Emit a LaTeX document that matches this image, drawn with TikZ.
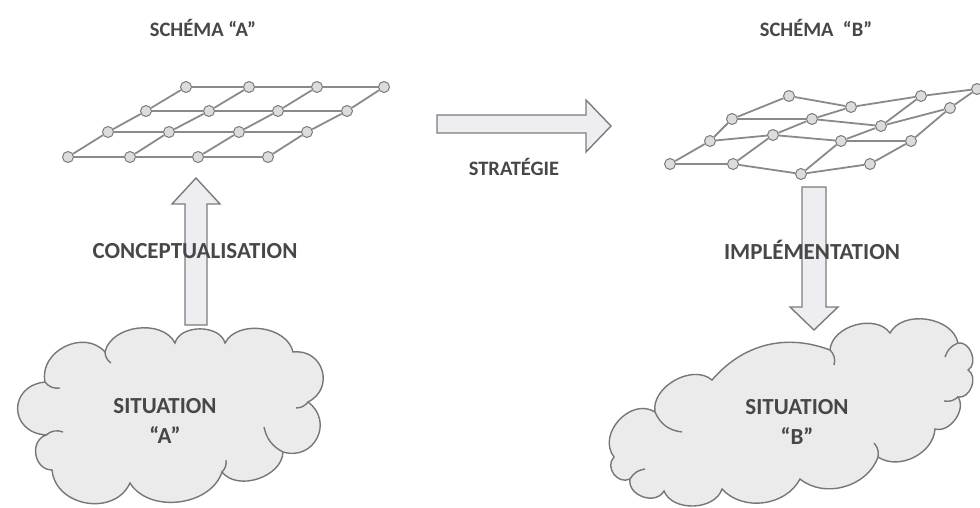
\documentclass[tikz,border=0pt]{standalone}
\usepackage{fontspec}
\setmainfont{Carlito}
\definecolor{txt}{HTML}{474747}
\definecolor{gline}{HTML}{8A8A8A}
\definecolor{gfill}{HTML}{DCDCDC}
\definecolor{gdraw}{HTML}{7A7A7A}
\definecolor{afill}{HTML}{EEEEF2}
\definecolor{adraw}{HTML}{7C7C7C}
\definecolor{cfill}{HTML}{EBEBEB}
\definecolor{cdraw}{HTML}{777777}
\begin{document}
\begin{tikzpicture}[x=1pt,y=1pt,
  gnode/.style={circle,minimum size=11pt,inner sep=0pt,draw=gdraw,fill=gfill,line width=1pt},
  glink/.style={draw=gline,line width=1.8pt},
  blockarrow/.style={draw=adraw,fill=afill,line width=1.4pt,line join=miter},
  cloudline/.style={draw=cdraw,fill=cfill,line width=1.4pt},
  curl/.style={draw=cdraw,line width=1.4pt},
  biglabel/.style={text=txt,font=\bfseries\fontsize{23}{26}\selectfont,inner sep=0pt},
  title/.style={text=txt,font=\bfseries\fontsize{20.5}{24}\selectfont,inner sep=0pt}]
\useasboundingbox (0,0) rectangle (980,507);

% ---------- titles ----------
\node[title] (tA) at (203,479) {SCHÉMA “A”};
\node[title] (tB) at (816,479) {SCHÉMA \ “B”};

% ---------- grid A ----------
\node[gnode] (a00) at (186,420) {};
\node[gnode] (a01) at (249,420) {};
\node[gnode] (a02) at (317,420) {};
\node[gnode] (a03) at (384,420) {};
\node[gnode] (a10) at (146,396) {};
\node[gnode] (a11) at (209,396) {};
\node[gnode] (a12) at (278,396) {};
\node[gnode] (a13) at (347,396) {};
\node[gnode] (a20) at (108,375) {};
\node[gnode] (a21) at (169,375) {};
\node[gnode] (a22) at (239,375) {};
\node[gnode] (a23) at (307,375) {};
\node[gnode] (a30) at (68,350) {};
\node[gnode] (a31) at (130,350) {};
\node[gnode] (a32) at (198,350) {};
\node[gnode] (a33) at (268,350) {};
\foreach \r in {0,1,2,3}{
  \draw[glink] (a\r0) -- (a\r1);
  \draw[glink] (a\r1) -- (a\r2);
  \draw[glink] (a\r2) -- (a\r3);
  \draw[glink] (a0\r) -- (a1\r);
  \draw[glink] (a1\r) -- (a2\r);
  \draw[glink] (a2\r) -- (a3\r);
}

% ---------- grid B ----------
\node[gnode] (b00) at (789,411) {};
\node[gnode] (b01) at (851,400) {};
\node[gnode] (b02) at (921,411) {};
\node[gnode] (b03) at (977,418) {};
\node[gnode] (b10) at (732,388) {};
\node[gnode] (b11) at (812,388) {};
\node[gnode] (b12) at (881,381) {};
\node[gnode] (b13) at (950,399) {};
\node[gnode] (b20) at (710,366) {};
\node[gnode] (b21) at (773,372) {};
\node[gnode] (b22) at (841,366) {};
\node[gnode] (b23) at (911,366) {};
\node[gnode] (b30) at (670,343) {};
\node[gnode] (b31) at (733,343) {};
\node[gnode] (b32) at (801,333) {};
\node[gnode] (b33) at (870,343) {};
\foreach \r in {0,1,2,3}{
  \draw[glink] (b\r0) -- (b\r1);
  \draw[glink] (b\r1) -- (b\r2);
  \draw[glink] (b\r2) -- (b\r3);
  \draw[glink] (b0\r) -- (b1\r);
  \draw[glink] (b1\r) -- (b2\r);
  \draw[glink] (b2\r) -- (b3\r);
}

% ---------- block arrows ----------
\draw[blockarrow] (185,182) -- (185,303) -- (172,303) -- (196,329) -- (220,303) -- (207,303) -- (207,182) -- cycle;
\draw[blockarrow] (437,374) -- (586,374) -- (586,355) -- (611,381) -- (586,407) -- (586,392) -- (437,392) -- cycle;
\draw[blockarrow] (802,320) -- (802,200) -- (790,200) -- (814,177) -- (838,200) -- (826,200) -- (826,320) -- cycle;

% ---------- labels ----------
\node[title] (strat) at (514,340) {STRATÉGIE};
\node[biglabel] (concept) at (195,256) {CONCEPTUALISATION};
\node[biglabel] (impl) at (812,257) {IMPLÉMENTATION};

% ---------- cloud A ----------
\draw[cloudline] (45,125)
  to[bend left=75,looseness=1.2] (105,155)
  to[bend left=70] (175,164)
  to[bend left=75] (225,164)
  to[bend left=70] (293,155)
  to[bend left=80,looseness=1.5] (308,105)
  to[bend left=80,looseness=1.5] (283,55)
  to[bend left=70] (222,35)
  to[bend left=65] (130,24)
  to[bend left=75,looseness=1.2] (52,37)
  to[bend left=80,looseness=1.3] (46,72)
  to[bend left=85,looseness=1.8] cycle;
\draw[curl] (283,55) to[bend left=25] (264,80);
\draw[curl] (45,125) to[bend right=30] (60,119);
\draw[curl] (46,72) to[bend left=30] (63,75);
\draw[curl] (105,155) to[bend right=25] (111,144);
\draw[curl] (308,105) to[bend left=25] (296,99);
\draw[curl] (222,35) to[bend right=25] (226,47);

% ---------- cloud B ----------
\draw[cloudline] (614,50)
  to[bend left=80,looseness=1.2] (655,95)
  to[bend left=70] (712,127)
  to[bend left=35] (830,157)
  to[bend left=70] (890,174)
  to[bend left=70] (958,164)
  to[bend left=80,looseness=1.1] (968,137)
  to[bend left=80,looseness=1.1] (958,110)
  to[bend left=70] (935,78)
  to[bend left=60] (878,50)
  to[bend left=55] (800,28)
  to[bend left=55] (722,18)
  to[bend left=70] (664,16)
  to[bend left=80,looseness=1.2] (630,28)
  to[bend left=80,looseness=1.3] cycle;
\draw[curl] (655,95) to[bend right=30] (682,75);
\draw[curl] (830,157) to[bend left=30] (834,142);
\draw[curl] (958,164) to[bend right=25] (945,150);
\draw[curl] (958,110) to[bend left=25] (944,106);
\draw[curl] (878,50) to[bend right=25] (874,64);
\draw[curl] (630,28) to[bend left=25] (645,38);

% ---------- cloud texts ----------
\node[biglabel] (sitA) at (165,101) {SITUATION};
\node[biglabel] (qA) at (165,72) {“A”};
\node[biglabel] (sitB) at (797,100) {SITUATION};
\node[biglabel] (qB) at (797,71) {“B”};
\end{tikzpicture}
\end{document}
